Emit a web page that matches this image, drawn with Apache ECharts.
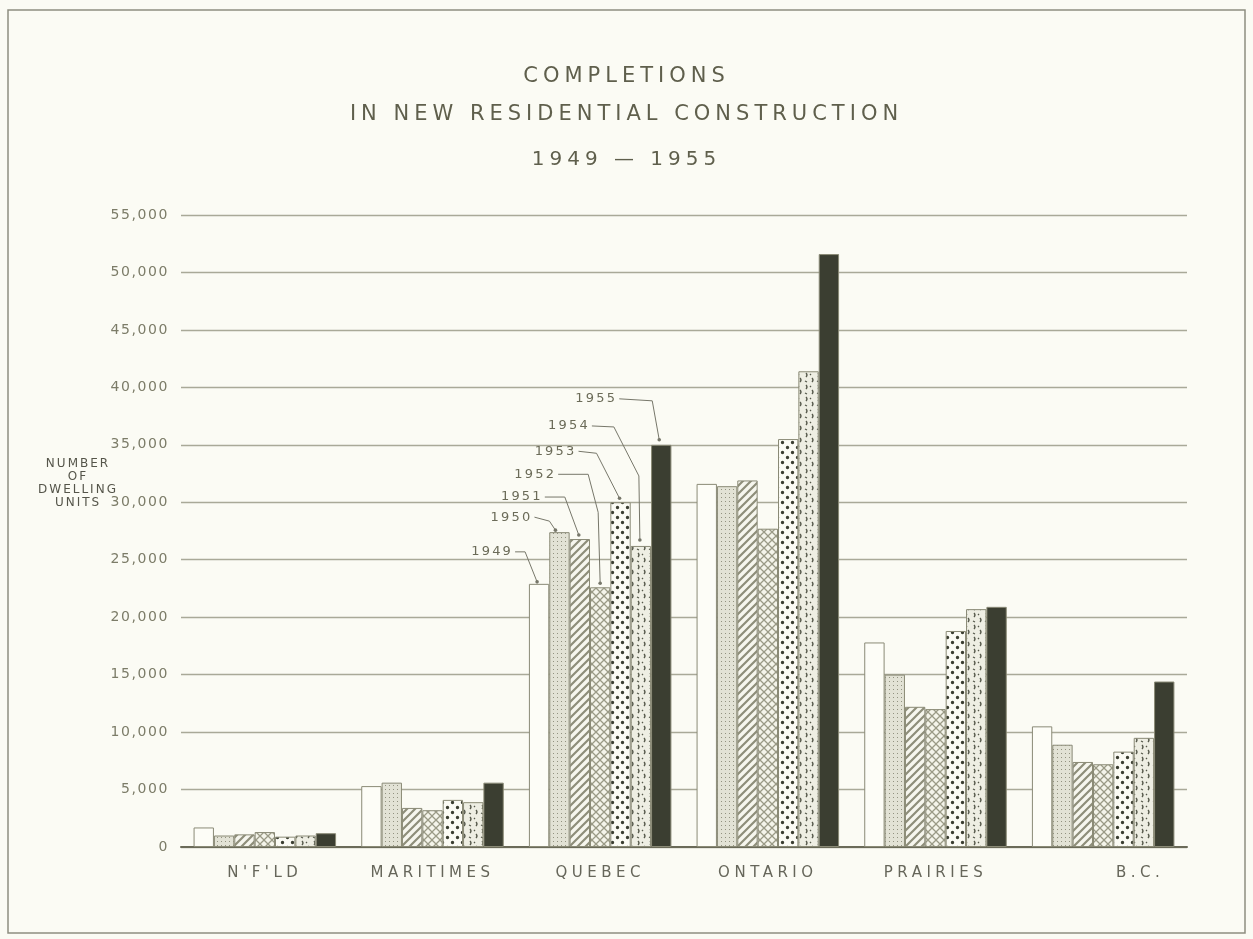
<!DOCTYPE html>
<html lang="en">
<head>
    <meta charset="UTF-8"/>
    <script src="https://cdn.jsdelivr.net/npm/echarts@6/dist/echarts.min.js"></script>
    <title>completions</title>
    <style>
        html, body { margin: 0; padding: 0; background: #fbfbf4; }
    </style>
</head>
<body>
<div id="main" style="width: 1253px;height:939px;"></div>
<script type="text/javascript">
    // data
    var categories = ["N'F'LD", 'MARITIMES', 'QUEBEC', 'ONTARIO', 'PRAIRIES', 'B.C.'];
    var years = ['1949', '1950', '1951', '1952', '1953', '1954', '1955'];
    var v1949 = [1700, 5300, 22900, 31600, 17800, 10500];
    var v1950 = [1000, 5600, 27400, 31400, 15000, 8900];
    var v1951 = [1100, 3400, 26800, 31900, 12200, 7400];
    var v1952 = [1300, 3200, 22600, 27700, 12000, 7200];
    var v1953 = [900, 4100, 30000, 35500, 18800, 8300];
    var v1954 = [1000, 3900, 26200, 41400, 20700, 9500];
    var v1955 = [1200, 5600, 35000, 51600, 20900, 14400];

    var values = [v1949, v1950, v1951, v1952, v1953, v1954, v1955];
    var keyCategory = 2; // the year callouts sit on the Quebec bars

    // the original lettering is widely spaced: add canvas letter spacing by font size
    var spacingBySize = {21: 5, 20: 5, 15: 4.5, 14: 1.6, 13: 2.2, 12: 2};
    function applySpacing(ctx) {
        var m = /(\d+(?:\.\d+)?)px/.exec(ctx.font);
        var s = m ? spacingBySize[Math.round(parseFloat(m[1]))] : 0;
        ctx.letterSpacing = (s || 0) + 'px';
    }
    ['fillText', 'strokeText', 'measureText'].forEach(function (fn) {
        var orig = CanvasRenderingContext2D.prototype[fn];
        CanvasRenderingContext2D.prototype[fn] = function () {
            applySpacing(this);
            return orig.apply(this, arguments);
        };
    });

    // small canvas tiles used as bar fills
    function tile(w, h, bg, draw) {
        var c = document.createElement('canvas');
        c.width = w; c.height = h;
        var ctx = c.getContext('2d');
        ctx.fillStyle = bg;
        ctx.fillRect(0, 0, w, h);
        draw(ctx);
        return {image: c, repeat: 'repeat'};
    }
    var ink = '#3b3e31';
    var fills = [
        '#fdfdf7',
        tile(4, 4, '#e2e2d5', function (ctx) {
            ctx.fillStyle = '#929280';
            ctx.fillRect(1, 1, 1, 1);
        }),
        tile(8, 8, '#f6f6ee', function (ctx) {
            ctx.strokeStyle = '#8e8e7a';
            ctx.lineWidth = 2.2;
            ctx.beginPath();
            ctx.moveTo(-2, 10); ctx.lineTo(10, -2);
            ctx.moveTo(-2, 2); ctx.lineTo(2, -2);
            ctx.moveTo(6, 10); ctx.lineTo(10, 6);
            ctx.stroke();
        }),
        tile(8, 8, '#f4f4ea', function (ctx) {
            ctx.strokeStyle = '#9a9a86';
            ctx.lineWidth = 1.3;
            ctx.beginPath();
            ctx.moveTo(-2, 10); ctx.lineTo(10, -2);
            ctx.moveTo(-2, -2); ctx.lineTo(10, 10);
            ctx.stroke();
        }),
        tile(10, 10, '#fbfbf4', function (ctx) {
            ctx.fillStyle = ink;
            ctx.beginPath();
            ctx.arc(2.5, 2.5, 1.7, 0, Math.PI * 2);
            ctx.arc(7.5, 7.5, 1.7, 0, Math.PI * 2);
            ctx.fill();
        }),
        tile(12, 12, '#eeeee3', function (ctx) {
            ctx.strokeStyle = '#55584a';
            ctx.lineWidth = 1.3;
            ctx.beginPath();
            ctx.moveTo(2, 1); ctx.quadraticCurveTo(4, 3, 2, 5);
            ctx.moveTo(8, 6); ctx.quadraticCurveTo(10, 8, 8, 10);
            ctx.moveTo(6, 2); ctx.lineTo(7, 3);
            ctx.moveTo(1, 9); ctx.lineTo(3, 10);
            ctx.stroke();
        }),
        ink
    ];

    // callout leader shapes, in px relative to the top centre of each Quebec bar;
    // the first point is where the year text ends
    var leaders = [
        [[-24, -32], [-14, -32], [-2, -2]],
        [[-25, -15], [-10, -11], [-4, -2]],
        [[-35, -42], [-15, -42], [-1, -4]],
        [[-42, -113], [-12, -113], [-2, -75], [0, -4]],
        [[-42, -51], [-24, -49], [-1, -4]],
        [[-49, -120], [-27, -119], [-2, -70], [-1, -6]],
        [[-42, -46], [-9, -44], [-2, -5]]
    ];
    var gapRatio = 0.15;

    function fmt(v) {
        return String(v).replace(/\B(?=(\d{3})+(?!\d))/g, ',');
    }

    var myChart = echarts.init(document.getElementById('main'));

    var series = years.map(function (y, i) {
        return {
            name: y,
            type: 'bar',
            barGap: '0%',
            barCategoryGap: (gapRatio * 100) + '%',
            itemStyle: {color: fills[i], borderColor: '#8a8a76', borderWidth: 1},
            data: values[i]
        };
    });

    // year callouts on the Quebec group, placed through the axis scales
    series.push({
        type: 'custom',
        z: 5,
        silent: true,
        data: years.map(function (y, i) { return [keyCategory, values[i][keyCategory], i]; }),
        renderItem: function (params, api) {
            var k = api.value(2);
            var top = api.coord([api.value(0), api.value(1)]);
            var band = api.size([1, 0])[0];
            var groupW = band * (1 - gapRatio);
            var bw = groupW / years.length;
            var cx = top[0] - groupW / 2 + bw * (k + 0.5);
            var pts = leaders[k].map(function (p) { return [cx + p[0], top[1] + p[1]]; });
            var end = pts[pts.length - 1];
            return {
                type: 'group',
                children: [
                    {type: 'polyline', shape: {points: pts.slice(0)},
                        style: {stroke: '#77776a', lineWidth: 1, fill: null}},
                    {type: 'circle', shape: {cx: end[0], cy: end[1], r: 1.8},
                        style: {fill: '#77776a'}},
                    {type: 'text', x: pts[0][0] - 2, y: pts[0][1],
                        style: {text: years[k], align: 'right', verticalAlign: 'middle',
                            fill: '#6b6b58', font: '13px "DejaVu Sans"'}}
                ]
            };
        }
    });

    var titleStyle = {fontSize: 21, fontWeight: 'normal', color: '#5f5f4c'};
    var option = {
        backgroundColor: '#fbfbf4',
        animation: false,
        textStyle: {fontFamily: 'DejaVu Sans'},
        title: [
            {text: 'COMPLETIONS', left: 'center', top: 59, textStyle: titleStyle},
            {text: 'IN NEW RESIDENTIAL CONSTRUCTION', left: 'center', top: 97, textStyle: titleStyle},
            {text: '1949 — 1955', left: 'center', top: 142,
                textStyle: {fontSize: 20, fontWeight: 'normal', color: '#5f5f4c'}}
        ],
        grid: {left: 181, right: 66, top: 215, bottom: 92},
        xAxis: {
            type: 'category',
            data: categories.map(function (c, i) {
                return i === categories.length - 1 ? {value: c, textStyle: {padding: [0, 0, 0, 74]}} : c;
            }),
            axisLine: {show: true, lineStyle: {color: '#6a6a58', width: 2}},
            axisTick: {show: false},
            axisLabel: {color: '#66665a', fontSize: 15, margin: 16}
        },
        yAxis: {
            type: 'value', min: 0, max: 55000, interval: 5000,
            axisLine: {show: false}, axisTick: {show: false},
            axisLabel: {color: '#7c7c68', fontSize: 14, margin: 12, formatter: fmt},
            splitLine: {lineStyle: {color: '#a9a998', width: 1.4}}
        },
        graphic: [
            {type: 'rect', shape: {x: 8, y: 10, width: 1237, height: 923},
                style: {fill: null, stroke: '#8e8e80', lineWidth: 1.5}, silent: true},
            {type: 'text', x: 78, y: 457,
                style: {text: 'NUMBER\nOF\nDWELLING\nUNITS', align: 'center', fill: '#55554a',
                    font: '12px "DejaVu Sans"', lineHeight: 13}}
        ],
        series: series
    };

    myChart.setOption(option);
</script>
</body>
</html>
